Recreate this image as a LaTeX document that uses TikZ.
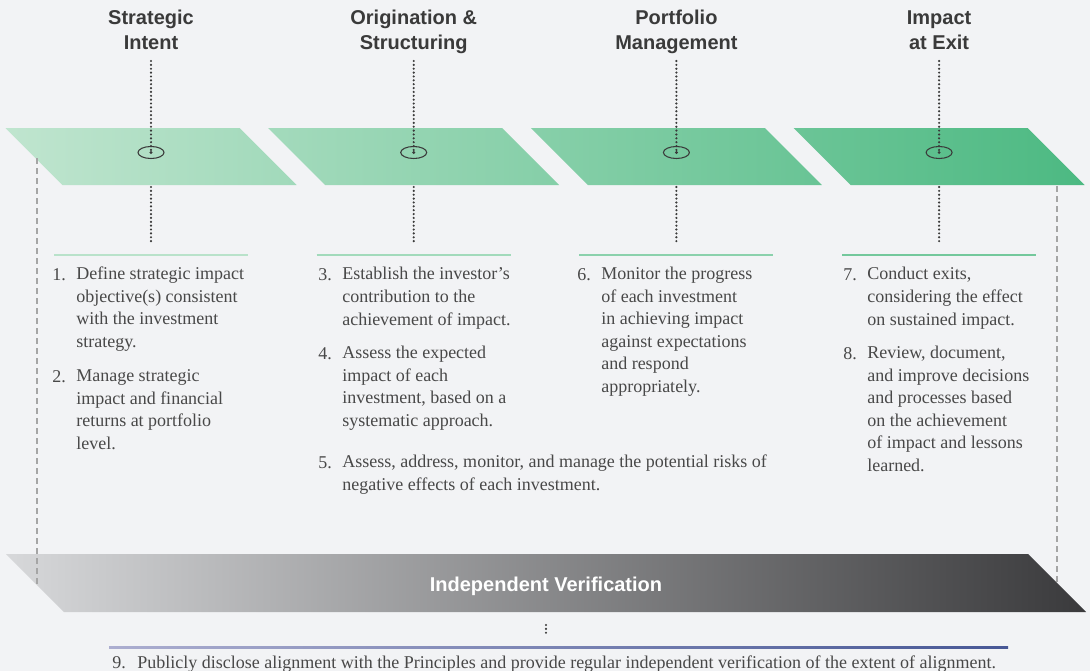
\documentclass[tikz,border=0pt]{standalone}
\usepackage{fontspec}
\setmainfont{Liberation Serif}
\newfontfamily\headfont{Liberation Sans}
\usetikzlibrary{calc}
\definecolor{pageBg}{RGB}{242,243,245}
\definecolor{mintLight}{RGB}{192,229,207}
\definecolor{mintDark}{RGB}{76,185,130}
\definecolor{slateLight}{RGB}{215,216,218}
\definecolor{slateDark}{RGB}{58,58,60}
\definecolor{lilacLight}{RGB}{172,174,208}
\definecolor{lilacDark}{RGB}{72,88,150}
\definecolor{inkgray}{RGB}{58,58,58}
\definecolor{textgray}{RGB}{72,72,72}
\definecolor{dashgray}{RGB}{165,165,165}

% multi-line nodes sit on the baseline of their last line
\tikzset{
  phase/.style={font=\headfont\bfseries\fontsize{15}{18.75}\selectfont, text=inkgray, align=center, inner sep=0pt, anchor=base},
  pnum/.style={font=\fontsize{13.5}{16.9}\selectfont, text=textgray, inner sep=0pt, anchor=base west},
  ptext/.style={font=\fontsize{13.5}{16.9}\selectfont, text=textgray, inner sep=0pt, anchor=base west, align=left},
  dotline/.style={inkgray, line width=1.8pt, line cap=round, dash pattern=on 0pt off 2.9pt},
  guide/.style={dashgray, line width=1.1pt, dash pattern=on 4.5pt off 3pt},
}

\begin{document}
\begin{tikzpicture}[x=0.75pt,y=0.75pt]
    \fill[pageBg] (0,0) rectangle (1090,-671);
    \useasboundingbox (0,0) rectangle (1090,-671);

    % green phase band
    \begin{scope}
        \clip \foreach \cx in {151,413.7,676.4,939.1} {
            ({\cx-145.5},-128) -- ({\cx+88.5},-128) -- ({\cx+145.5},-185) -- ({\cx-88.5},-185) -- cycle};
        \shade[left color=mintLight, right color=mintDark] (4,-128) rectangle (1088,-185);
    \end{scope}

    % grey verification band
    \shade[left color=slateLight, right color=slateDark]
        (6,-554) -- (1028,-554) -- (1086,-612) -- (64,-612) -- cycle;
    \node[font=\headfont\bfseries\fontsize{15}{18}\selectfont, text=white] (iv) at (546,-586) {Independent Verification};

    % side guides
    \coordinate (g1) at (37,-158);
    \coordinate (g2) at (37,-585);
    \coordinate (g3) at (1057,-186);
    \coordinate (g4) at (1057,-583);
    \draw[guide] (g1) -- (g2);
    \draw[guide] (g3) -- (g4);

    % phase titles
    \node[phase] (t1) at (151,-50) {Strategic\\Intent};
    \node[phase] (t2) at (413.7,-50) {Origination \&\\Structuring};
    \node[phase] (t3) at (676.4,-50) {Portfolio\\Management};
    \node[phase] (t4) at (939.1,-50) {Impact\\at Exit};

    % markers, dotted drops and rules
    \foreach \cx/\k/\shadeamt in {151/1/6,413.7/2/26,676.4/3/46,939.1/4/66} {
        \coordinate (a\k) at (\cx,-61);
        \coordinate (e\k) at (\cx,-152.5);
        \coordinate (b\k) at (\cx,-187);
        \coordinate (c\k) at (\cx,-242);
        \draw[dotline] (a\k) -- (e\k);
        \draw[inkgray, line width=0.8pt] (e\k) ellipse [x radius=13, y radius=6];
        \fill[inkgray] (e\k) circle (1.6);
        \draw[dotline] (b\k) -- (c\k);
        \draw[mintDark!\shadeamt!mintLight, line width=1.6pt] (\cx-97,-255) -- (\cx+97,-255);
    }

    % Strategic Intent
    \node[pnum] (n1) at (52,-280) {1.};
    \node[ptext] (i1) at (76,-347.5) {Define strategic impact\\objective(s) consistent\\with the investment\\strategy.};
    \node[pnum] (n2) at (52,-382) {2.};
    \node[ptext] (i2) at (76,-449.5) {Manage strategic\\impact and financial\\returns at portfolio\\level.};

    % Origination & Structuring
    \node[pnum] (n3) at (318,-280) {3.};
    \node[ptext] (i3) at (342,-325) {Establish the investor’s\\contribution to the\\achievement of impact.};
    \node[pnum] (n4) at (318,-359) {4.};
    \node[ptext] (i4) at (342,-426.5) {Assess the expected\\impact of each\\investment, based on a\\systematic approach.};
    \node[pnum] (n5) at (318,-468) {5.};
    \node[ptext] (i5) at (342,-490.5) {Assess, address, monitor, and manage the potential risks of\\negative effects of each investment.};

    % Portfolio Management
    \node[pnum] (n6) at (577,-280) {6.};
    \node[ptext] (i6) at (601,-392.5) {Monitor the progress\\of each investment\\in achieving impact\\against expectations\\and respond\\appropriately.};

    % Impact at Exit
    \node[pnum] (n7) at (843,-280) {7.};
    \node[ptext] (i7) at (867,-325) {Conduct exits,\\considering the effect\\on sustained impact.};
    \node[pnum] (n8) at (843,-359) {8.};
    \node[ptext] (i8) at (867,-471.5) {Review, document,\\and improve decisions\\and processes based\\on the achievement\\of impact and lessons\\learned.};

    % verification principle
    \coordinate (v1) at (546,-625);
    \coordinate (v2) at (546,-634);
    \draw[dotline] (v1) -- (v2);
    \shade[left color=lilacLight, right color=lilacDark] (109,-646) rectangle (1008,-648.5);
    \node[pnum] (n9) at (112,-668) {9.};
    \node[ptext] (i9) at (137,-668) {Publicly disclose alignment with the Principles and provide regular independent verification of the extent of alignment.};
\end{tikzpicture}
\end{document}
